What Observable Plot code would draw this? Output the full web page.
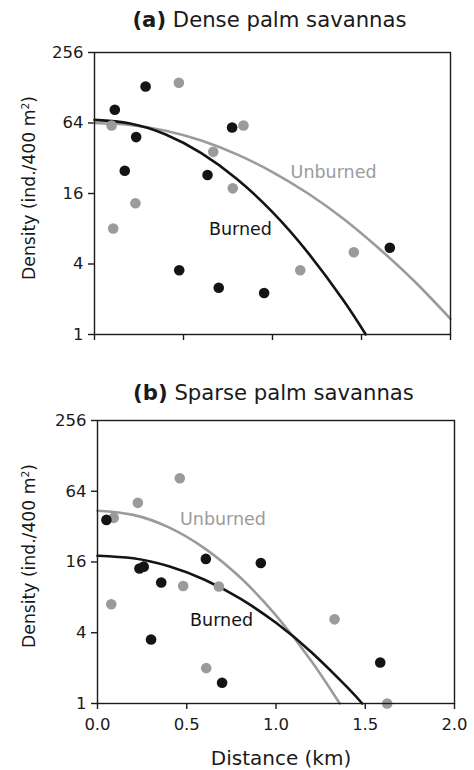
<!DOCTYPE html>
<html><head><meta charset="utf-8">
<script src="https://cdn.jsdelivr.net/npm/d3@7"></script>
<script src="https://cdn.jsdelivr.net/npm/@observablehq/plot@0.6"></script>
<style>
body{margin:0;background:#fff;}
#wrap{position:relative;width:474px;height:770px;font-family:"DejaVu Sans",sans-serif;color:#1a1a1a;overflow:hidden;}
.abs{position:absolute;white-space:nowrap;}
.ttl{font-size:21.2px;transform:translate(-50%,-50%);}
.ylab{font-size:17.2px;transform:translate(-50%,-50%) rotate(-90deg);}
.xlab{font-size:20px;transform:translate(-50%,-50%);}
sup{font-size:0.62em;vertical-align:0.55em;line-height:0;}
</style></head><body><div id="wrap"></div>
<script>
// ---- data ----
const xTicks = [0, 0.5, 1, 1.5, 2];
const yTicks = [1, 4, 16, 64, 256];

// (a) Dense palm savannas
const aBurnedDist = [0.287, 0.114, 0.234, 0.170, 0.773, 0.635, 0.476, 0.698, 0.953, 1.659];
const aBurnedDens = [131, 83, 48.5, 25, 58.6, 23, 3.54, 2.51, 2.26, 5.5];
const aUnburnedDist = [0.474, 0.096, 0.837, 0.667, 0.777, 0.230, 0.105, 1.156, 1.457];
const aUnburnedDens = [141, 61, 61, 36.3, 17.7, 13.2, 8.05, 3.54, 5.04];
const aBurnedFitDist = [0, 0.2, 0.4, 0.6, 0.8, 1.0, 1.2, 1.4, 1.524];
const aBurnedFitDens = [68, 63.3, 51, 35.4, 21.3, 11.1, 4.98, 1.94, 1.0];
const aUnburnedFitDist = [0, 0.2, 0.4, 0.6, 0.8, 1.0, 1.2, 1.4, 1.6, 1.8, 2.0];
const aUnburnedFitDens = [64, 61.6, 54.9, 45.3, 34.5, 24.4, 16, 9.7, 5.4, 2.82, 1.36];

// (b) Sparse palm savannas
const bBurnedDist = [0.050, 0.235, 0.259, 0.357, 0.607, 0.915, 0.300, 0.698, 1.584];
const bBurnedDens = [36.5, 14.1, 14.6, 10.7, 17, 15.7, 3.5, 1.5, 2.23];
const bUnburnedDist = [0.461, 0.226, 0.091, 0.077, 0.480, 0.680, 1.328, 0.609, 1.623];
const bUnburnedDens = [82.6, 51, 38, 7.0, 10, 9.9, 5.2, 2.0, 1.0];
const bBurnedFitDist = [0, 0.2, 0.4, 0.6, 0.8, 1.0, 1.2, 1.4, 1.483];
const bBurnedFitDens = [18.1, 17.2, 14.7, 11.3, 7.8, 4.86, 2.72, 1.37, 1.0];
const bUnburnedFitDist = [0, 0.2, 0.4, 0.6, 0.8, 1.0, 1.2, 1.357];
const bUnburnedFitDens = [43.7, 40.3, 31.5, 20.9, 11.8, 5.62, 2.28, 1.0];

const BLACK = "#141414", GRAY = "#9b9b9b";
const zip = (xs, ys) => xs.map((x, i) => ({x, y: ys[i]}));

function panel(o) {
  return Plot.plot({
    width: 474, height: o.height,
    marginTop: o.mt, marginBottom: o.mb, marginLeft: o.ml, marginRight: o.mr,
    style: {fontFamily: "DejaVu Sans, sans-serif", fontSize: "16.5px", color: "#1a1a1a", background: "transparent"},
    x: {domain: [0, 2]},
    y: {type: "log", base: 2, domain: [1, 256]},
    marks: [
      Plot.axisY({ticks: yTicks, tickFormat: d => String(d), tickSize: 6, tickPadding: 5, strokeWidth: 1.4, label: null}),
      Plot.axisX({ticks: xTicks, tickFormat: o.showX ? d3.format(".1f") : () => "", tickSize: 6, tickPadding: 9, strokeWidth: 1.4, label: null}),
      Plot.line(zip(o.uFitX, o.uFitY), {x: "x", y: "y", stroke: GRAY, strokeWidth: 2.6, curve: "natural"}),
      Plot.line(zip(o.bFitX, o.bFitY), {x: "x", y: "y", stroke: BLACK, strokeWidth: 2.6, curve: "natural"}),
      Plot.dot(zip(o.uX, o.uY), {x: "x", y: "y", r: 5.3, fill: GRAY}),
      Plot.dot(zip(o.bX, o.bY), {x: "x", y: "y", r: 5.3, fill: BLACK}),
      Plot.text([o.uLab], {x: "x", y: "y", text: () => "Unburned", fill: GRAY, fontSize: 17.5}),
      Plot.text([o.bLab], {x: "x", y: "y", text: () => "Burned", fill: BLACK, fontSize: 17.5}),
      Plot.frame({stroke: "#1a1a1a", strokeWidth: 1.4})
    ]
  });
}

const wrap = document.getElementById("wrap");
function place(el, top) { el.style.position = "absolute"; el.style.left = "0px"; el.style.top = top + "px"; wrap.appendChild(el); }
function addText(html, cls, x, y) {
  const d = document.createElement("div");
  d.className = "abs " + cls; d.innerHTML = html;
  d.style.left = x + "px"; d.style.top = y + "px";
  wrap.appendChild(d);
}

place(panel({height: 345, mt: 52, mb: 11, ml: 94, mr: 24, showX: false,
  bX: aBurnedDist, bY: aBurnedDens, uX: aUnburnedDist, uY: aUnburnedDens,
  bFitX: aBurnedFitDist, bFitY: aBurnedFitDens, uFitX: aUnburnedFitDist, uFitY: aUnburnedFitDens,
  uLab: {x: 1.343, y: 24.4}, bLab: {x: 0.82, y: 7.9}}), 0);

place(panel({height: 425, mt: 75, mb: 67, ml: 97, mr: 20, showX: true,
  bX: bBurnedDist, bY: bBurnedDens, uX: bUnburnedDist, uY: bUnburnedDens,
  bFitX: bBurnedFitDist, bFitY: bBurnedFitDens, uFitX: bUnburnedFitDist, uFitY: bUnburnedFitDens,
  uLab: {x: 0.703, y: 36.7}, bLab: {x: 0.695, y: 5.12}}), 345);

addText("<b>(a)</b> Dense palm savannas", "ttl", 269.5, 19);
addText("<b>(b)</b> Sparse palm savannas", "ttl", 273.5, 392);
addText("Density (ind./400 m<sup>2</sup>)", "ylab", 29, 188);
addText("Density (ind./400 m<sup>2</sup>)", "ylab", 29, 556);
addText("Distance (km)", "xlab", 281, 758);
</script>
</body></html>
